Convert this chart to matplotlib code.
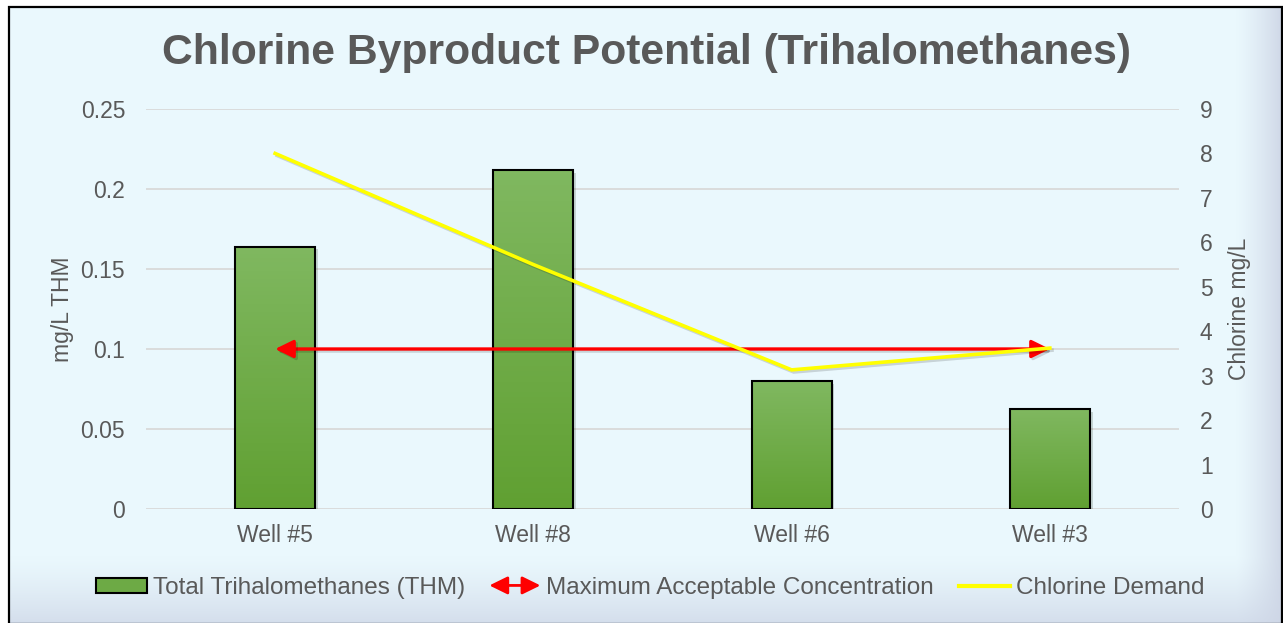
import numpy as np
import matplotlib.pyplot as plt
import matplotlib.patheffects as pe
from matplotlib.patches import FancyArrowPatch, Rectangle, Patch
from matplotlib.legend_handler import HandlerPatch
from matplotlib.lines import Line2D
from matplotlib.colors import LinearSegmentedColormap

plt.rcParams["font.family"] = ["Liberation Sans", "DejaVu Sans"]

# ---------------------------------------------------------------
# Data
# ---------------------------------------------------------------
WELLS = ["Well #5", "Well #8", "Well #6", "Well #3"]
THM_MG_L = [0.164, 0.212, 0.080, 0.0625]
CHLORINE_MG_L = [8.0, 5.5, 3.13, 3.62]
MAX_THM = 0.1
LEFT_TICKS = [0, 0.05, 0.1, 0.15, 0.2, 0.25]
LEFT_LABELS = ["0", "0.05", "0.1", "0.15", "0.2", "0.25"]
RIGHT_TICKS = list(range(10))

TEXT = "#595959"
GRID = "#D9D9D9"
BG = np.array([234, 248, 253]) / 255.0

W, H = 1283, 623
ARROW = "<|-|>,head_length=0.55,head_width=0.27"


class HandlerArrow(HandlerPatch):
    """Legend entry drawn as a double headed arrow."""

    def create_artists(self, legend, orig_handle, xdescent, ydescent,
                       width, height, fontsize, trans):
        y = height / 2 - ydescent
        a = FancyArrowPatch((-xdescent, y), (width - xdescent, y),
                            arrowstyle=ARROW, mutation_scale=20, color="red",
                            lw=2.0, shrinkA=0, shrinkB=0)
        a.set_transform(trans)
        return [a]


fig = plt.figure(figsize=(W / 100, H / 100), dpi=100)
fig.patch.set_facecolor("white")

# ---- background panel with soft bevel at bottom / right ----
bg_ax = fig.add_axes([0, 0, 1, 1], zorder=-10)
img = np.ones((H, W, 3)) * BG
yy = np.arange(H)[:, None]
xx = np.arange(W)[None, :]
tb = np.clip((yy - 555) / (H - 555), 0, 1) ** 1.3
tr = np.clip((xx - 1235) / (W - 1235), 0, 1) ** 1.3
bot = np.array([212, 222, 236]) / 255.0
rgt = np.array([206, 214, 230]) / 255.0
img = img * (1 - tb[..., None]) + bot * tb[..., None]
img = img * (1 - tr[..., None]) + rgt * tr[..., None]
img[:7, :, :] = 1.0
img[:, :9, :] = 1.0
bg_ax.imshow(img, aspect="auto", extent=[0, W, H, 0])
bg_ax.set_xlim(0, W)
bg_ax.set_ylim(H, 0)
bg_ax.axis("off")
bg_ax.add_patch(Rectangle((8.5, 6.5), W - 9.5, H - 6, fill=False,
                          edgecolor="black", lw=1.6))

# ---- main axes ----
ax = fig.add_axes([146 / W, 1 - 509 / H, (1179 - 146) / W, 400 / H])
ax.patch.set_alpha(0)
x = np.arange(len(WELLS))
width = 0.31

bars = ax.bar(x, THM_MG_L, width, color="#6DAA45", zorder=2,
              path_effects=[pe.SimplePatchShadow(offset=(2, -2), alpha=0.18),
                            pe.Normal()])
green = LinearSegmentedColormap.from_list("g", ["#60A032", "#80B860"])
grad = np.linspace(0, 1, 64)[:, None]
for b in bars:
    x0, w_, h_ = b.get_x(), b.get_width(), b.get_height()
    im = ax.imshow(grad, extent=[x0, x0 + w_, 0, h_], origin="lower",
                   aspect="auto", cmap=green, zorder=2.5)
    im.set_clip_path(b)
ax.bar(x, THM_MG_L, width, facecolor="none", edgecolor="black", lw=1.5, zorder=3)

ax.annotate("", xy=(x[-1], MAX_THM), xytext=(x[0], MAX_THM),
            arrowprops=dict(arrowstyle=ARROW, mutation_scale=20, color="red",
                            lw=2.4, shrinkA=0, shrinkB=0,
                            path_effects=[pe.SimpleLineShadow(offset=(1.5, -1.5), alpha=0.15),
                                          pe.Normal()]),
            zorder=4)

ax.set_xlim(-0.5, len(WELLS) - 0.5)
ax.set_ylim(0, 0.25)
ax.set_yticks(LEFT_TICKS)
ax.set_yticklabels(LEFT_LABELS)
ax.set_xticks(x)
ax.set_xticklabels(WELLS)
ax.yaxis.grid(True, color=GRID, lw=1.3, zorder=0)
ax.set_axisbelow(True)
for s in ax.spines.values():
    s.set_visible(False)
ax.tick_params(axis="y", length=0, pad=15, labelsize=16.5, labelcolor=TEXT)
ax.tick_params(axis="x", length=0, pad=11, labelsize=16.5, labelcolor=TEXT)
ax.set_ylabel("mg/L THM", fontsize=16.5, color=TEXT)
ax.yaxis.set_label_coords(-0.07, 0.5)

# ---- secondary axis: chlorine demand ----
ax2 = ax.twinx()
ax2.patch.set_alpha(0)
ax2.plot(x, CHLORINE_MG_L, color="#FFFF00", lw=2.6, solid_joinstyle="miter",
         path_effects=[pe.SimpleLineShadow(offset=(1.5, -1.5), alpha=0.15), pe.Normal()])
ax2.set_ylim(0, 9)
ax2.set_yticks(RIGHT_TICKS)
for s in ax2.spines.values():
    s.set_visible(False)
ax2.tick_params(axis="y", length=0, pad=15, labelsize=16.5, labelcolor=TEXT)
ax2.set_ylabel("Chlorine mg/L", fontsize=16.5, color=TEXT)
ax2.yaxis.set_label_coords(1.047, 0.5)

fig.text(646 / W, 1 - 53 / H, "Chlorine Byproduct Potential (Trihalomethanes)",
         ha="center", va="center", fontsize=30.7, fontweight="bold", color=TEXT)

# ---- legend ----
h_bar = Patch(facecolor="#6DAA45", edgecolor="black", lw=1.5)
h_arrow = FancyArrowPatch((0, 0), (1, 0))
h_line = Line2D([], [], color="#FFFF00", lw=3)
leg = fig.legend([h_bar, h_arrow, h_line],
                 ["Total Trihalomethanes (THM)", "Maximum Acceptable Concentration",
                  "Chlorine Demand"],
                 handler_map={h_arrow: HandlerArrow()},
                 loc="center", bbox_to_anchor=(650 / W, 1 - 588 / H), ncol=3,
                 frameon=False, fontsize=17.5, handlelength=2.1, handleheight=0.6,
                 handletextpad=0.25, columnspacing=1.0)
for t in leg.get_texts():
    t.set_color(TEXT)

fig.savefig("out.png", dpi=100)
